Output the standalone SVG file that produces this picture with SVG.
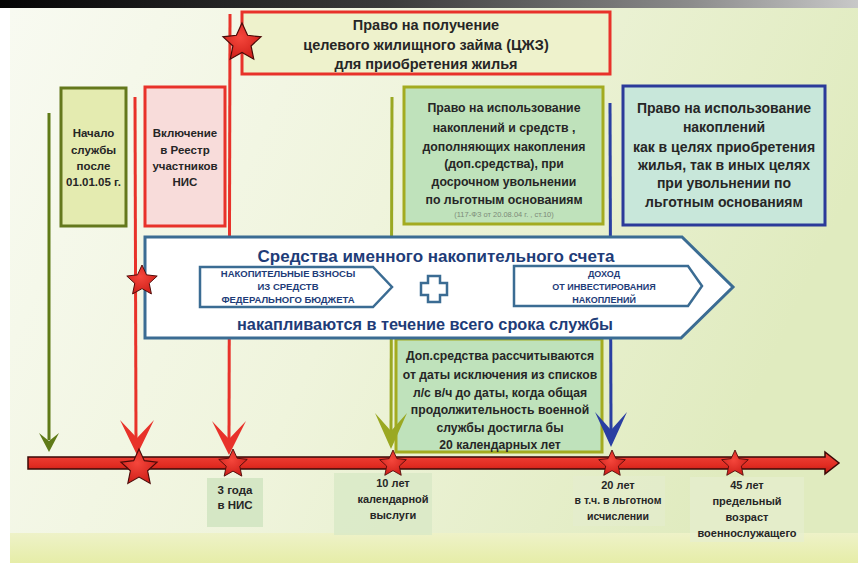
<svg xmlns="http://www.w3.org/2000/svg" xmlns:xlink="http://www.w3.org/1999/xlink" width="858" height="563" viewBox="0 0 858 563">
<defs>
<linearGradient id="bg" x1="0" y1="0" x2="1" y2="0.3">
<stop offset="0" stop-color="#f8faf1"/>
<stop offset="0.5" stop-color="#eff4dc"/>
<stop offset="1" stop-color="#e0ebbf"/>
</linearGradient>
<linearGradient id="band" x1="0" y1="0" x2="0" y2="1">
<stop offset="0" stop-color="#eef2c8"/>
<stop offset="1" stop-color="#e6eda8"/>
</linearGradient>
<linearGradient id="topbar" x1="0" y1="0" x2="1" y2="0">
<stop offset="0" stop-color="#050505"/>
<stop offset="0.45" stop-color="#3a3a3a"/>
<stop offset="0.8" stop-color="#8a8a8a"/>
<stop offset="1" stop-color="#c8c8c8"/>
</linearGradient>
<linearGradient id="bar" x1="0" y1="0" x2="0" y2="1">
<stop offset="0" stop-color="#f0473c"/>
<stop offset="0.6" stop-color="#e22c22"/>
<stop offset="1" stop-color="#b81a14"/>
</linearGradient>
<radialGradient id="starfill" cx="0.45" cy="0.4" r="0.6">
<stop offset="0" stop-color="#f5473c"/>
<stop offset="1" stop-color="#d0201a"/>
</radialGradient>
<polygon id="star" points="0,-1 0.28,-0.385 0.951,-0.309 0.453,0.147 0.588,0.809 0,0.476 -0.588,0.809 -0.453,0.147 -0.951,-0.309 -0.28,-0.385"/>
</defs>
<style>
.t{font-family:"Liberation Sans",Arial,sans-serif;font-weight:bold;fill:#262626;text-anchor:middle}
.bl{fill:#1e3c78}
.st{fill:url(#starfill);stroke:#4a0a08;stroke-width:0.06}
.ln{fill:none;stroke-width:3}
.red{stroke:#e8322a}
.redf{fill:#e8322a}
</style>

<!-- background -->
<rect x="0" y="0" width="858" height="563" fill="#ffffff"/>
<rect x="10" y="8" width="848" height="555" fill="url(#bg)"/>
<rect x="10" y="533" width="848" height="30" fill="url(#band)"/>
<rect x="0" y="0" width="858" height="8" fill="url(#topbar)"/>

<!-- label boxes under timeline -->
<g id="lbl3">
<rect x="207" y="478" width="56" height="49" fill="#d2e6c2" opacity="0.9"/>
<text class="t" font-size="11.5" x="235" y="494">3 года</text>
<text class="t" font-size="11.5" x="235" y="509">в НИС</text>
</g>
<g id="lbl10">
<rect x="334" y="473" width="98" height="62" fill="#d8e8c6" opacity="0.8"/>
<text class="t" font-size="11" x="393" y="487">10 лет</text>
<text class="t" font-size="11" x="393" y="503">календарной</text>
<text class="t" font-size="11" x="393" y="519">выслуги</text>
</g>
<g id="lbl20">
<rect x="573" y="476" width="92" height="50" fill="#e4edcf" opacity="0.6"/>
<text class="t" font-size="11" x="618" y="489">20 лет</text>
<text class="t" font-size="10.5" x="618" y="504">в т.ч. в льготном</text>
<text class="t" font-size="10.5" x="618" y="520">исчислении</text>
</g>
<g id="lbl45">
<rect x="690" y="477" width="114" height="65" fill="#e6eed2" opacity="0.6"/>
<text class="t" font-size="11" x="747" y="489">45 лет</text>
<text class="t" font-size="11" x="747" y="505">предельный</text>
<text class="t" font-size="11" x="747" y="521">возраст</text>
<text class="t" font-size="11" x="747" y="537">военнослужащего</text>
</g>

<!-- nodes -->
<g id="cjz">
<rect x="242" y="12" width="368" height="62" fill="#eef2cc" stroke="#e8322a" stroke-width="3"/>
<text class="t" font-size="14.5" x="426" y="30">Право на получение</text>
<text class="t" font-size="14.5" x="426" y="50">целевого жилищного займа (ЦЖЗ)</text>
<text class="t" font-size="14.5" x="426" y="69">для приобретения жилья</text>
</g>
<g id="start">
<rect x="61" y="88" width="65" height="138" fill="#e4ebb0" stroke="#64781c" stroke-width="3"/>
<text class="t" font-size="11.5" x="93.5" y="137">Начало</text>
<text class="t" font-size="11.5" x="93.5" y="154">службы</text>
<text class="t" font-size="11.5" x="93.5" y="170">после</text>
<text class="t" font-size="11.5" x="93.5" y="186">01.01.05 г.</text>
</g>
<g id="reestr">
<rect x="145" y="87" width="80" height="139" fill="#f8dcda" stroke="#e8322a" stroke-width="3"/>
<text class="t" font-size="11.5" x="185" y="137">Включение</text>
<text class="t" font-size="11.5" x="185" y="154">в Реестр</text>
<text class="t" font-size="11.5" x="185" y="170">участников</text>
<text class="t" font-size="11.5" x="185" y="186">НИС</text>
</g>
<g id="early">
<rect x="404" y="87" width="199" height="137" fill="#bfe2bb" stroke="#a3ab20" stroke-width="3"/>
<text class="t" font-size="12.3" x="504" y="112">Право на использование</text>
<text class="t" font-size="12.3" x="504" y="132">накоплений  и средств ,</text>
<text class="t" font-size="12.3" x="504" y="151">дополняющих накопления</text>
<text class="t" font-size="12.3" x="504" y="168">(доп.средства), при</text>
<text class="t" font-size="12.3" x="504" y="186">досрочном увольнении</text>
<text class="t" font-size="12.3" x="504" y="204">по льготным основаниям</text>
<text class="t" font-size="7.5" x="504" y="217" style="fill:#7d8a78;font-weight:normal">(117-ФЗ от 20.08.04 г. , ст.10)</text>
</g>
<g id="dismiss">
<rect x="623" y="86" width="202" height="139" fill="#c8e7da" stroke="#2b3a9a" stroke-width="3"/>
<text class="t" font-size="14" x="724" y="113">Право на использование</text>
<text class="t" font-size="14" x="724" y="132">накоплений</text>
<text class="t" font-size="14" x="724" y="152">как в целях приобретения</text>
<text class="t" font-size="14" x="724" y="170">жилья, так в иных целях</text>
<text class="t" font-size="14" x="724" y="188">при увольнении по</text>
<text class="t" font-size="14" x="724" y="207">льготным основаниям</text>
</g>
<g id="dopsr">
<rect x="396" y="339" width="206" height="113" fill="#bfe2bb" stroke="#a3ab20" stroke-width="3"/>
<text class="t" font-size="12.2" x="500" y="360">Доп.средства  рассчитываются</text>
<text class="t" font-size="12.2" x="500" y="379">от даты исключения из списков</text>
<text class="t" font-size="12.2" x="500" y="397">л/с в/ч до даты, когда общая</text>
<text class="t" font-size="12.2" x="500" y="414">продолжительность военной</text>
<text class="t" font-size="12.2" x="500" y="432">службы  достигла бы</text>
<text class="t" font-size="12.2" x="500" y="449">20  календарных лет</text>
</g>

<!-- connectors -->
<g id="connectors">
<line class="ln" x1="49" y1="113" x2="49" y2="440" stroke="#5f7a17"/>
<polygon points="49,452 59,433 49,441 39,433" fill="#5f7a17"/>
<line class="ln red" x1="135" y1="97" x2="136" y2="440"/>
<polygon class="redf" points="137,455 154,420 137,438 120,420"/>
<line class="ln red" x1="230" y1="14" x2="229" y2="440"/>
<polygon class="redf" points="229,455 246,421 229,439 212,421"/>
<line class="ln" x1="392" y1="97" x2="391" y2="435" stroke="#9aa822"/>
<polygon points="391,449 407,413 391,431 375,413" fill="#9aa822"/>
<line class="ln" x1="610" y1="103" x2="611" y2="435" stroke="#2a3fa2"/>
<polygon points="611,447 627,412 611,430 595,412" fill="#2a3fa2"/>
</g>

<!-- main account arrow -->
<g id="account">
<polygon points="145,237 682,237 733,287 681,338 145,338" fill="#ffffff" stroke="#3b6c93" stroke-width="3"/>
<text class="t bl" font-size="17" x="436" y="262">Средства именного накопительного счета</text>
<g id="contrib">
<polygon points="200,267 373,267 392,287 373,307 200,307" fill="#ffffff" stroke="#3b6c93" stroke-width="2.5"/>
<text class="t bl" font-size="9.5" x="288" y="277">НАКОПИТЕЛЬНЫЕ ВЗНОСЫ</text>
<text class="t bl" font-size="9.5" x="288" y="290">ИЗ СРЕДСТВ</text>
<text class="t bl" font-size="9.5" x="288" y="303">ФЕДЕРАЛЬНОГО БЮДЖЕТА</text>
</g>
<g id="plus">
<path d="M428,276 H440 V283 H447 V295 H440 V302 H428 V295 H421 V283 H428 Z" fill="#ffffff" stroke="#3b6c93" stroke-width="2.5"/>
</g>
<g id="income">
<polygon points="514,266 688,266 702,286 688,306 514,306" fill="#ffffff" stroke="#3b6c93" stroke-width="2.5"/>
<text class="t bl" font-size="9" x="604" y="277">ДОХОД</text>
<text class="t bl" font-size="9" x="604" y="290">ОТ ИНВЕСТИРОВАНИЯ</text>
<text class="t bl" font-size="9" x="604" y="303">НАКОПЛЕНИЙ</text>
</g>
<text class="t bl" font-size="16.3" x="425" y="330">накапливаются в течение всего срока службы</text>
</g>

<!-- timeline -->
<g id="timeline">
<path d="M28,457 H825 V452 L839,463 L825,474 V469 H28 Z" fill="url(#bar)" stroke="#3a0806" stroke-width="1.5"/>
</g>

<!-- stars -->
<g id="stars">
<use xlink:href="#star" class="st" transform="translate(242,43) scale(20)"/>
<use xlink:href="#star" class="st" transform="translate(142,281) scale(16)"/>
<use xlink:href="#star" class="st" transform="translate(139,468) scale(19)"/>
<use xlink:href="#star" class="st" transform="translate(233,464) scale(15)"/>
<use xlink:href="#star" class="st" transform="translate(393,464) scale(14)"/>
<use xlink:href="#star" class="st" transform="translate(612,464) scale(14)"/>
<use xlink:href="#star" class="st" transform="translate(735,464) scale(14)"/>
</g>
</svg>
